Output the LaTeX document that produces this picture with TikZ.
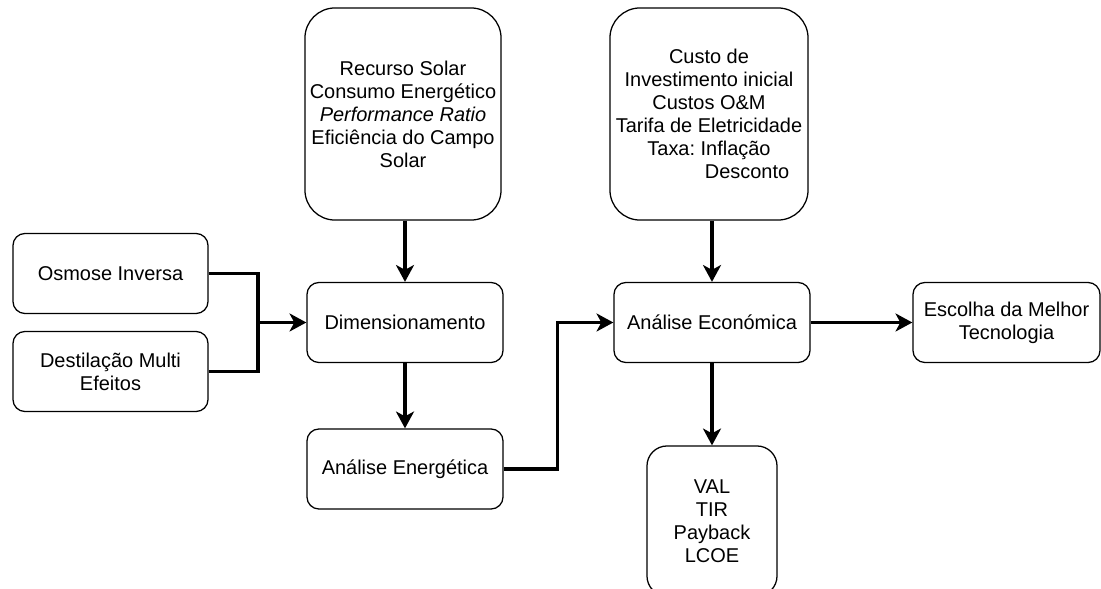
\documentclass[tikz,border=0pt]{standalone}
\usepackage{fontspec}
\setmainfont{Liberation Sans}
\usetikzlibrary{arrows.meta, positioning}
\frenchspacing

\begin{document}
\begin{tikzpicture}[
  x=0.025cm, y=-0.025cm,
  box/.style={draw=black, fill=white, rounded corners=0.3cm,
              minimum width=4.9cm, minimum height=2cm, inner sep=0pt,
              align=center, line width=0.9pt,
              font=\fontsize{14.2pt}{16.4pt}\selectfont},
  bigbox/.style={box, rounded corners=0.75cm, minimum height=5.3cm},
  arr/.style={-{Stealth[length=0.42cm, width=0.45cm, inset=0.12cm]},
              line width=2.2pt},
  link/.style={line width=2.2pt},
]
  \useasboundingbox (0,0) rectangle (1101,589);

  % Input data
  \node[bigbox] (solar) at (403,114)
    {Recurso Solar\\Consumo Energético\\\textit{Performance Ratio}\\
     Eficiência do Campo\\Solar};
  \node[bigbox, minimum width=4.95cm] (custos) at (709,114)
    {Custo de\\Investimento inicial\\Custos O\&M\\Tarifa de Eletricidade\\
     Taxa: Inflação\\\hspace*{1.9cm}Desconto};

  % Technologies
  \node[box, minimum width=4.875cm] (osmose) at (110.5,273.5) {Osmose Inversa};
  \node[box, minimum width=4.875cm] (destil) at (110.5,371.5)
    {Destilação Multi\\Efeitos};

  % Main chain
  \node[box] (dim) at (405,322.5) {Dimensionamento};
  \node[box] (energ) at (405,469) {Análise Energética};
  \node[box] (econ) at (712,322.5) {Análise Económica};
  \node[box, minimum width=4.675cm] (escolha) at (1006.5,322.5)
    {Escolha da Melhor\\Tecnologia};
  \node[box, minimum width=3.25cm, minimum height=3.75cm,
        rounded corners=0.5cm] (ind) at (712,521)
    {VAL\\TIR\\Payback\\LCOE};

  % Connectors
  \coordinate (join) at (258,322.5);
  \draw[link] (osmose.east) -| (join);
  \draw[link] (destil.east) -| (join);
  \draw[arr] (join) -- (dim.west);
  \draw[arr] (solar.south -| dim.north) -- (dim.north);
  \draw[arr] (dim.south) -- (energ.north);
  \draw[arr] (energ.east) -- ++(54,0) |- (econ.west);
  \draw[arr] (custos.south -| econ.north) -- (econ.north);
  \draw[arr] (econ.east) -- (escolha.west);
  \draw[arr] (econ.south) -- (ind.north);
\end{tikzpicture}
\end{document}
